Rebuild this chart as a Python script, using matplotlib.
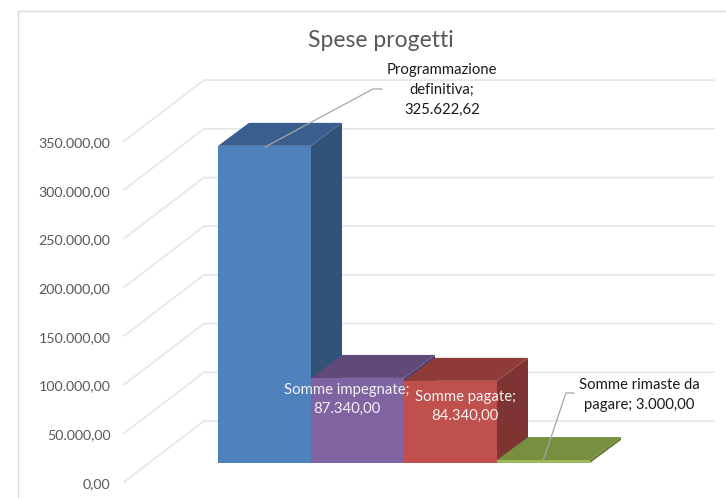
import matplotlib
matplotlib.use('Agg')
import matplotlib.pyplot as plt
from matplotlib.patches import Polygon

plt.rcParams['font.family'] = ['Lato', 'DejaVu Sans']

categories = ['Programmazione\ndefinitiva;\n325.622,62', 'Somme impegnate;\n87.340,00',
              'Somme pagate;\n84.340,00', 'Somme rimaste da\npagare; 3.000,00']
values = [325622.62, 87340.00, 84340.00, 3000.00]
ticks = [0, 50000, 100000, 150000, 200000, 250000, 300000, 350000]
tick_labels = ['0,00', '50.000,00', '100.000,00', '150.000,00', '200.000,00',
               '250.000,00', '300.000,00', '350.000,00']
front_cols = ['#4F81BD', '#8064A2', '#C0504D', '#9BBB59']
top_cols = ['#3A5F8E', '#5F4A7A', '#8F3C39', '#769040']
side_cols = ['#335278', '#533F6B', '#7D3432', '#667D38']

W, H = 726, 498
PX_X = 93.0         # px per category
PX_Y = 48.7 / 50000  # px per unit of value
X0, Y0 = 218, 463   # px of the front bottom left bar corner


def px_x(p):
    return (p - X0) / PX_X


def px_y(p):
    return (Y0 - p) / PX_Y


# oblique depth of bars
DX = 31 / PX_X
DY = 23 / PX_Y

fig = plt.figure(figsize=(W / 100, H / 100), dpi=100)
ax = fig.add_axes([0, 0, 1, 1])
ax.set_xlim(px_x(0), px_x(W))
ax.set_ylim(px_y(H), px_y(0))
ax.axis('off')

# chart frame, no right or bottom edge in the crop
ax.plot([px_x(17.5), px_x(17.5), px_x(W)], [px_y(H), px_y(11), px_y(11)],
        color='#D9D9D9', lw=1)

# gridlines, side wall then back wall
grid_col = '#E6E6E6'
for t, lab in zip(ticks, tick_labels):
    back = t + px_y(421)
    front = t + px_y(482)
    ax.plot([px_x(124), px_x(204), px_x(714)], [front, back, back], color=grid_col, lw=1.2, zorder=1)
    ax.text(px_x(110.5), t + px_y(484), lab, ha='right', va='center', fontsize=10.3, color='#595959')

# bars, drawn left to right
for i, v in enumerate(values):
    ax.add_patch(Polygon([(i + 1, 0), (i + 1 + DX, DY), (i + 1 + DX, v + DY), (i + 1, v)],
                         color=side_cols[i], lw=0, zorder=2 + i))
    ax.add_patch(Polygon([(i, v), (i + DX, v + DY), (i + 1 + DX, v + DY), (i + 1, v)],
                         color=top_cols[i], lw=0, zorder=2 + i))
    ax.add_patch(Polygon([(i, 0), (i + 1, 0), (i + 1, v), (i, v)],
                         color=front_cols[i], lw=0, zorder=2 + i))

ax.text(px_x(381), px_y(41), 'Spese progetti', ha='center', va='center', fontsize=16.5, color='#595959')

# labels
ax.text(px_x(442), px_y(90), categories[0], ha='center', va='center', fontsize=10.7,
        color='#1A1A1A', linespacing=1.5, zorder=10)
ax.text(px_x(347), px_y(399.5), categories[1], ha='center', va='center', fontsize=10.7,
        color='#F2F2F2', linespacing=1.5, zorder=10)
ax.text(px_x(465), px_y(406.5), categories[2], ha='center', va='center', fontsize=10.7,
        color='#F2F2F2', linespacing=1.5, zorder=10)
ax.text(px_x(639), px_y(395), categories[3], ha='center', va='center', fontsize=10.7,
        color='#1A1A1A', linespacing=1.5, zorder=10)

# leader lines
ax.plot([px_x(265), px_x(373), px_x(382)], [px_y(147), px_y(89), px_y(89)], color='#A6A6A6', lw=0.9, zorder=10)
ax.plot([px_x(543), px_x(566), px_x(574)], [px_y(461), px_y(393), px_y(393)], color='#A6A6A6', lw=0.9, zorder=10)

fig.savefig('out.png', dpi=100)
